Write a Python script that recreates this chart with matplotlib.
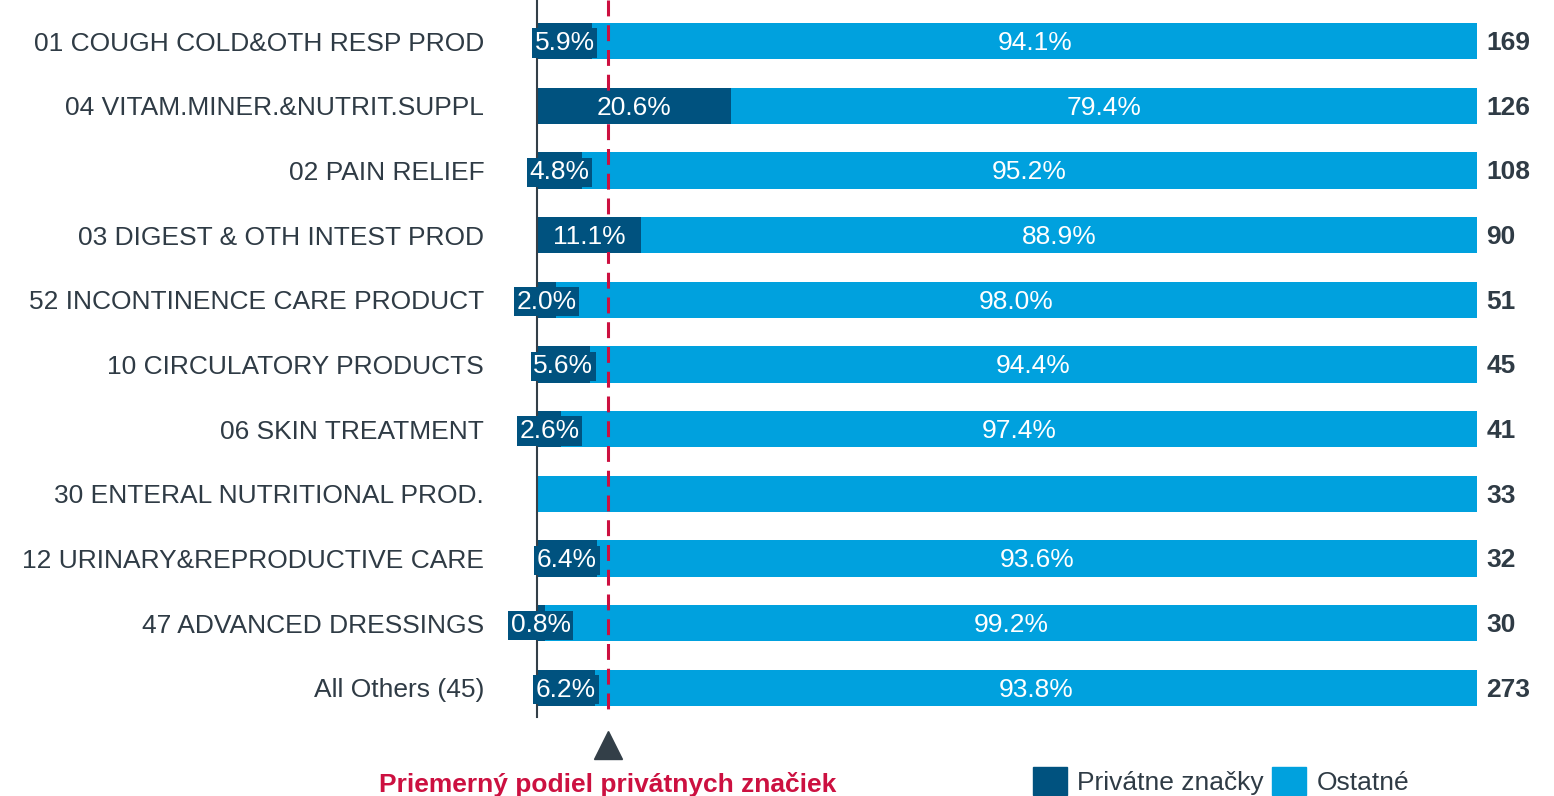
import matplotlib.pyplot as plt
from matplotlib.patches import Patch

plt.rcParams['font.family'] = ['Liberation Sans', 'DejaVu Sans']

categories = ['01 COUGH COLD&OTH RESP PROD', '04 VITAM.MINER.&NUTRIT.SUPPL',
              '02 PAIN RELIEF', '03 DIGEST & OTH INTEST PROD',
              '52 INCONTINENCE CARE PRODUCT', '10 CIRCULATORY PRODUCTS',
              '06 SKIN TREATMENT', '30 ENTERAL NUTRITIONAL PROD.',
              '12 URINARY&REPRODUCTIVE CARE', '47 ADVANCED DRESSINGS',
              'All Others (45)']
private = [5.9, 20.6, 4.8, 11.1, 2.0, 5.6, 2.6, 0.0, 6.4, 0.8, 6.2]
others = [94.1, 79.4, 95.2, 88.9, 98.0, 94.4, 97.4, 100.0, 93.6, 99.2, 93.8]
totals = [169, 126, 108, 90, 51, 45, 41, 33, 32, 30, 273]
show_labels = [True] * 7 + [False] + [True] * 3
avg_private = 7.5

dark = '#00527f'
light = '#00a1de'
txt = '#2f3b45'
red = '#cc1040'

fig = plt.figure(figsize=(15.54, 7.96), dpi=100)
ax = fig.add_axes([537 / 1554, 1 - 717 / 796, 940 / 1554, 717 / 796])

y = list(range(len(categories)))
ax.barh(y, private, height=0.56, color=dark)
ax.barh(y, others, left=private, height=0.56, color=light)

fs = 19
dy = 0.03  # nudge text down a touch so it sits centred like the original
for i in y:
    if show_labels[i]:
        ax.text(private[i] / 2, i + dy, f'{private[i]:.1f}%', ha='center', va='center',
                color='white', fontsize=fs,
                bbox=dict(boxstyle='square,pad=0.1', fc=dark, ec='none'))
        ax.text(private[i] + others[i] / 2, i + dy, f'{others[i]:.1f}%', ha='center',
                va='center', color='white', fontsize=fs)
    ax.text(101.0, i + dy, str(totals[i]), ha='left', va='center', color=txt,
            fontsize=fs, fontweight='bold')

ylo, yhi = -0.634, 10.45
# draw the average line top-down so the dash pattern starts at the top edge
ax.plot([avg_private, avg_private], [ylo, yhi], color=red, lw=2.2, ls=(0, (5.2, 2.9)))
ax.plot([avg_private], [10.88], marker='^', ms=20, color='#333f48', clip_on=False)
ax.text(avg_private, 11.5, 'Priemerný podiel privátnych značiek', ha='center',
        va='center', color=red, fontsize=19, fontweight='bold')

ax.set_xlim(0, 100)
ax.set_ylim(yhi, ylo)
ax.set_yticks(y)
ax.set_yticklabels(categories, fontsize=fs, color=txt)
ax.tick_params(axis='y', length=0, pad=38)
ax.set_xticks([])
for s in ['top', 'right', 'bottom']:
    ax.spines[s].set_visible(False)
ax.spines['left'].set_color('#333f48')
ax.spines['left'].set_linewidth(1.5)

handles = [Patch(color=dark, label='Privátne značky'), Patch(color=light, label='Ostatné')]
fig.legend(handles=handles, loc='upper left', bbox_to_anchor=(1022 / 1554, 1 - 756 / 796),
           ncol=2, frameon=False, fontsize=fs, handlelength=1.3, handleheight=1.3,
           columnspacing=0.3, handletextpad=0.4, labelcolor=txt, borderaxespad=0)

fig.savefig('out.png', dpi=100)
